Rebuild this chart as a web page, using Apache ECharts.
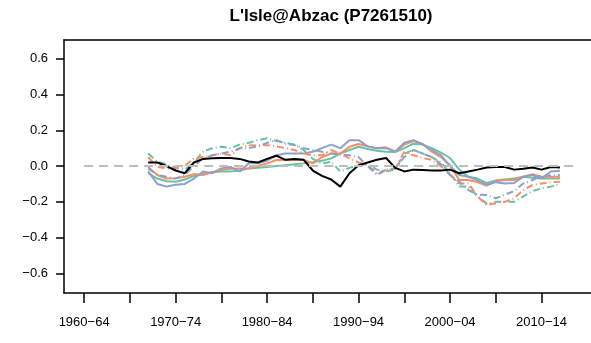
<!DOCTYPE html>
<html>
<head>
<meta charset="utf-8">
<script src="https://cdn.jsdelivr.net/npm/echarts@6/dist/echarts.min.js"></script>
<style>
  html, body { margin: 0; padding: 0; background: #fff; }
  #chart { width: 591px; height: 343px; }
</style>
</head>
<body>
<div id="chart"></div>
<script>
// Annual anomaly series, one value per year
const years = [];
for (let y = 1967; y <= 2012; y++) years.push(y);

const observed = [0.02, 0.02, 0.0, -0.025, -0.04, 0.02, 0.04, 0.043, 0.045, 0.045,
  0.04, 0.025, 0.02, 0.04, 0.058, 0.035, 0.04, 0.035, -0.025, -0.055,
  -0.075, -0.115, -0.04, 0.005, 0.02, 0.035, 0.045, -0.01, -0.03, -0.02,
  -0.022, -0.025, -0.025, -0.02, -0.04, -0.03, -0.02, -0.008, -0.005, -0.005,
  -0.02, -0.015, -0.008, -0.02, -0.005, -0.008];

const greenSolid = [-0.04, -0.07, -0.085, -0.088, -0.075, -0.055, -0.045, -0.035, -0.03, -0.03,
  -0.025, -0.013, -0.01, -0.005, 0.0, 0.005, 0.01, 0.015, 0.022, 0.03,
  0.043, 0.07, 0.09, 0.108, 0.095, 0.085, 0.08, 0.078, 0.1, 0.125,
  0.12, 0.1, 0.075, 0.045, -0.02, -0.06, -0.07, -0.095, -0.08, -0.075,
  -0.07, -0.06, -0.065, -0.07, -0.07, -0.07];

const orangeSolid = [-0.005, -0.05, -0.07, -0.068, -0.06, -0.045, -0.05, -0.035, -0.022, -0.015,
  -0.013, -0.013, 0.0, 0.015, 0.034, 0.034, 0.034, 0.034, 0.015, 0.049,
  0.07, 0.07, 0.108, 0.123, 0.11, 0.1, 0.105, 0.08, 0.12, 0.14,
  0.125, 0.08, 0.05, 0.005, -0.078, -0.078, -0.09, -0.11, -0.085, -0.078,
  -0.078, -0.06, -0.045, -0.06, -0.06, -0.06];

const blueSolid = [-0.03, -0.1, -0.115, -0.105, -0.1, -0.07, -0.03, -0.04, -0.013, -0.005,
  -0.03, 0.015, 0.015, 0.03, 0.06, 0.07, 0.07, 0.07, 0.08, 0.1,
  0.12, 0.1, 0.145, 0.145, 0.11, 0.1, 0.1, 0.08, 0.13, 0.145,
  0.12, 0.09, 0.06, 0.0, -0.05, -0.06, -0.08, -0.105, -0.09, -0.097,
  -0.095, -0.06, -0.05, -0.07, -0.03, -0.026];

const greenDashed = [0.07, 0.024, 0.01, -0.01, -0.02, 0.02, 0.08, 0.1, 0.108, 0.1,
  0.12, 0.13, 0.145, 0.155, 0.14, 0.13, 0.12, 0.09, 0.04, 0.015,
  0.024, -0.03, -0.01, 0.005, 0.01, -0.02, -0.03, -0.02, 0.07, 0.09,
  0.07, 0.05, 0.02, -0.04, -0.115, -0.115, -0.17, -0.21, -0.2, -0.2,
  -0.2, -0.17, -0.14, -0.125, -0.115, -0.1];

const orangeDashed = [0.05, -0.005, -0.013, -0.013, 0.0, 0.043, 0.05, 0.06, 0.07, 0.06,
  0.1, 0.117, 0.115, 0.117, 0.11, 0.1, 0.09, 0.07, 0.06, 0.06,
  0.09, 0.07, 0.043, 0.02, 0.005, -0.04, -0.022, -0.015, 0.08, 0.06,
  0.045, 0.034, 0.0, -0.05, -0.097, -0.097, -0.17, -0.218, -0.208, -0.2,
  -0.18, -0.134, -0.106, -0.097, -0.09, -0.088];

const blueDashed = [-0.013, -0.05, -0.06, -0.07, -0.05, 0.0, 0.043, 0.06, 0.07, 0.08,
  0.1, 0.1, 0.11, 0.13, 0.145, 0.125, 0.117, 0.1, 0.09, 0.08,
  0.07, 0.065, 0.06, 0.05, 0.0, -0.05, -0.022, -0.013, 0.05, 0.09,
  0.07, 0.05, 0.01, -0.05, -0.088, -0.134, -0.16, -0.162, -0.18, -0.16,
  -0.14, -0.097, -0.078, -0.056, -0.052, -0.05];

// Axis ticks and labels
const xTickYears = [1960, 1965, 1970, 1975, 1980, 1985, 1990, 1995, 2000, 2005, 2010];
const xLabelYears = [1960, 1970, 1980, 1990, 2000, 2010];
const yTicks = [-0.6, -0.4, -0.2, 0.0, 0.2, 0.4, 0.6];

const GREEN = '#66c2a5', ORANGE = '#fc8d62', BLUE = '#8da0cb';

function pairs(vals) { return years.map((y, i) => [y, vals[i]]); }
function series(name, vals, color, dash, width) {
  return {
    name, type: 'line', data: pairs(vals), symbol: 'none', silent: true,
    lineStyle: { color, width: width || 2, type: dash || 'solid' }
  };
}

const fontFamily = '"Liberation Sans", Arial, sans-serif';
const chart = echarts.init(document.getElementById('chart'), null, { renderer: 'canvas' });
chart.setOption({
  animation: false,
  title: {
    text: "L'Isle@Abzac (P7261510)",
    left: 326, top: 3, textAlign: 'center',
    textStyle: { fontFamily, fontSize: 17, fontWeight: 'bold', color: '#000' }
  },
  grid: { left: 64, top: 40, right: 0, bottom: 50, containLabel: false },
  xAxis: [{
    type: 'value', min: 1957.8, max: 2015.4, position: 'bottom',
    splitLine: { show: false },
    axisLine: { show: true, onZero: false, lineStyle: { color: '#000', width: 1.5 } },
    axisTick: { show: true, customValues: xTickYears, length: 10, lineStyle: { color: '#000', width: 1.5 } },
    axisLabel: {
      customValues: xLabelYears, margin: 23, color: '#000', fontFamily, fontSize: 13,
      formatter: v => v + '\u2212' + String(v + 4).slice(2)
    }
  }, {
    type: 'value', min: 1957.8, max: 2015.4, position: 'top',
    splitLine: { show: false },
    axisLine: { show: true, onZero: false, lineStyle: { color: '#000', width: 1.5 } },
    axisTick: { show: false }, axisLabel: { show: false }
  }],
  yAxis: {
    type: 'value', min: -0.71, max: 0.705,
    splitLine: { show: false },
    axisLine: { show: true, onZero: false, lineStyle: { color: '#000', width: 1.5 } },
    axisTick: { show: true, customValues: yTicks, length: 8, lineStyle: { color: '#000', width: 1.5 } },
    axisLabel: {
      customValues: yTicks, margin: 16, color: '#000', fontFamily, fontSize: 13,
      formatter: v => v.toFixed(1).replace('-', '\u2212')
    }
  },
  series: [
    {
      type: 'line', data: [], silent: true,
      markLine: {
        silent: true, symbol: 'none', label: { show: false },
        lineStyle: { color: '#bdbdbd', width: 2, type: [9, 6] },
        data: [[{ coord: [1960, 0] }, { coord: [2014, 0] }]]
      }
    },
    series('green', greenSolid, GREEN),
    series('orange', orangeSolid, ORANGE),
    series('blue', blueSolid, BLUE),
    series('green dashed', greenDashed, GREEN, [7, 3, 1, 3]),
    series('orange dashed', orangeDashed, ORANGE, [7, 3, 1, 3]),
    series('blue dashed', blueDashed, BLUE, [7, 3, 1, 3]),
    series('observed', observed, '#000', 'solid', 2)
  ]
});
</script>
</body>
</html>
